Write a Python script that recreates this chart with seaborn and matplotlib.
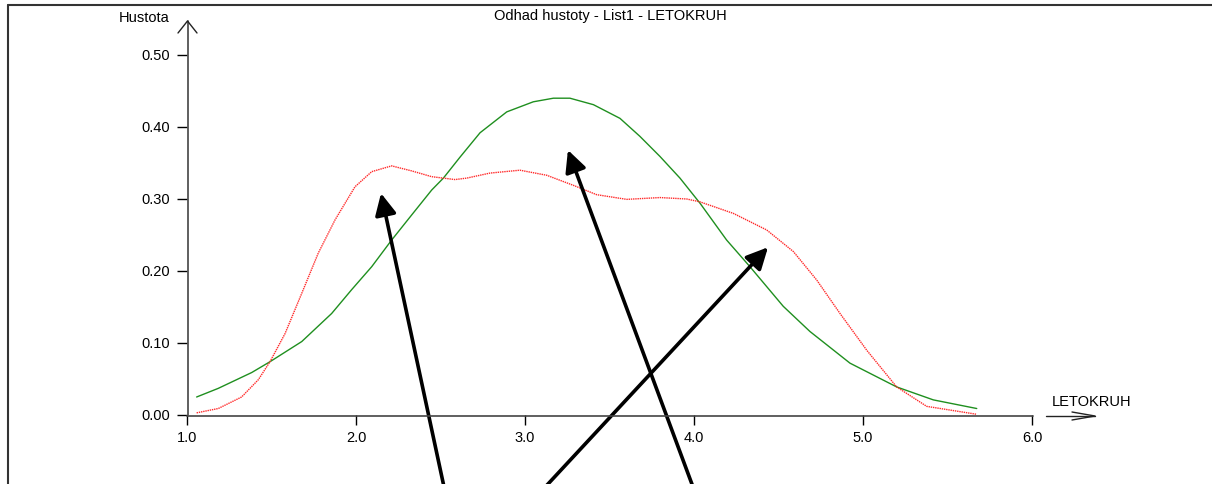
import matplotlib
matplotlib.use("Agg")
import matplotlib.pyplot as plt
from matplotlib.lines import Line2D
import seaborn as sns
import pandas as pd

# ---- data ----
green_x = [1.057, 1.185, 1.383, 1.491, 1.679, 1.856, 1.974, 2.093, 2.211, 2.33, 2.448, 2.517,
           2.615, 2.734, 2.892, 3.049, 3.168, 3.266, 3.405, 3.562, 3.68, 3.799, 3.917,
           4.036, 4.193, 4.331, 4.528, 4.686, 4.923, 5.199, 5.416, 5.673]
green_y = [0.025, 0.037, 0.059, 0.074, 0.102, 0.141, 0.174, 0.206, 0.243, 0.278, 0.3125, 0.329,
           0.358, 0.392, 0.421, 0.435, 0.440, 0.440, 0.431, 0.412, 0.387, 0.359, 0.329,
           0.294, 0.243, 0.206, 0.151, 0.116, 0.072, 0.039, 0.021, 0.009]

red_x = [1.057, 1.185, 1.323, 1.422, 1.491, 1.58, 1.679, 1.777, 1.876, 1.994, 2.093, 2.211,
         2.33, 2.448, 2.586, 2.655, 2.793, 2.97, 3.128, 3.286, 3.424, 3.602, 3.799, 3.957,
         4.036, 4.233, 4.43, 4.588, 4.726, 4.864, 5.022, 5.199, 5.377, 5.673]
red_y = [0.003, 0.009, 0.025, 0.049, 0.074, 0.113, 0.169, 0.225, 0.271, 0.317, 0.338, 0.346,
         0.339, 0.331, 0.327, 0.329, 0.336, 0.340, 0.333, 0.319, 0.306, 0.2995, 0.302, 0.300,
         0.296, 0.280, 0.257, 0.227, 0.1875, 0.141, 0.090, 0.039, 0.012, 0.001]

x_ticks = [1.0, 2.0, 3.0, 4.0, 5.0, 6.0]
y_ticks = [0.0, 0.1, 0.2, 0.3, 0.4, 0.5]
title = "Odhad hustoty - List1 - LETOKRUH"
x_label = "LETOKRUH"
y_label = "Hustota"

# annotation arrows: (tail x, tail y) -> (head x, head y), data coordinates
arrow_tails = [(2.53, -0.11), (4.01, -0.11), (3.08, -0.11)]
arrow_heads = [(2.148, 0.308), (3.254, 0.368), (4.438, 0.233)]

# ---- style ----
sns.set_style("white")
plt.rcParams["font.family"] = ["Liberation Sans", "DejaVu Sans"]
plt.rcParams["text.color"] = "black"
plt.rcParams["xtick.color"] = "black"
plt.rcParams["ytick.color"] = "black"
FS = 10.5

W, H = 1212, 484
fig = plt.figure(figsize=(W / 100, H / 100), dpi=100)
x0, x1 = 187, 1032
y0, y1 = 415, 55
ax = fig.add_axes([x0 / W, 1 - y0 / H, (x1 - x0) / W, (y0 - y1) / H])

df_g = pd.DataFrame({"x": green_x, "y": green_y})
df_r = pd.DataFrame({"x": red_x, "y": red_y})
sns.lineplot(data=df_g, x="x", y="y", ax=ax, color="#1f8f1f", lw=1.0, sort=False,
             clip_on=False)
sns.lineplot(data=df_r, x="x", y="y", ax=ax, color="#ff2a2a", lw=1.0, sort=False,
             linestyle=(0, (1, 0.6)), clip_on=False)

ax.set_xlim(1.0, 6.0)
ax.set_ylim(0.0, 0.5)
ax.set_xticks(x_ticks)
ax.set_xticklabels([f"{v:.1f}" for v in x_ticks], fontsize=FS, color="black")
ax.set_yticks(y_ticks)
ax.set_yticklabels([f"{v:.2f}" for v in y_ticks], fontsize=FS, color="black")
ax.tick_params(axis="both", direction="out", length=7.5, width=1, color="black",
               bottom=True, left=True)
ax.tick_params(axis="y", pad=5)
ax.tick_params(axis="x", pad=4)
ax.set_xlabel("")
ax.set_ylabel("")
for s in ax.spines.values():
    s.set_visible(False)

axis_col = "#444444"

def px2fig(px, py):
    return px / W, 1 - py / H

# y axis line extended up to open arrowhead
fig.add_artist(Line2D(*zip(px2fig(187.5, 415), px2fig(187.5, 21)), color=axis_col, lw=1.2))
fig.add_artist(Line2D(*zip(px2fig(178, 33), px2fig(187.5, 21), px2fig(197, 33)), color="#222222", lw=1.0))
# x axis line
fig.add_artist(Line2D(*zip(px2fig(187, 415.5), px2fig(1033, 415.5)), color=axis_col, lw=1.2))
# separate x arrow
fig.add_artist(Line2D(*zip(px2fig(1046, 416), px2fig(1095, 416)), color="#222222", lw=1.0))
fig.add_artist(Line2D(*zip(px2fig(1072, 412), px2fig(1095, 416), px2fig(1072, 420)), color="#222222", lw=1.0))

# texts
fig.text(*px2fig(610, 16), title, ha="center", va="center", fontsize=FS)
fig.text(*px2fig(170, 18), y_label, ha="right", va="center", fontsize=FS)
fig.text(*px2fig(1052, 402), x_label, ha="left", va="center", fontsize=FS)

# frame lines (top and left)
fig.add_artist(Line2D(*zip(px2fig(8, 5), px2fig(W, 5)), color="#333333", lw=1.5))
fig.add_artist(Line2D(*zip(px2fig(8, 5), px2fig(8, H)), color="#333333", lw=1.5))

# annotation arrows
for (tx, ty), (hx, hy) in zip(arrow_tails, arrow_heads):
    ax.annotate("", xy=(hx, hy), xytext=(tx, ty), xycoords="data", textcoords="data",
                annotation_clip=False,
                arrowprops=dict(arrowstyle="-|>,head_length=0.65,head_width=0.32",
                                lw=2.6, color="black", shrinkA=0, shrinkB=0,
                                mutation_scale=20))

fig.savefig("out.png", dpi=100)
